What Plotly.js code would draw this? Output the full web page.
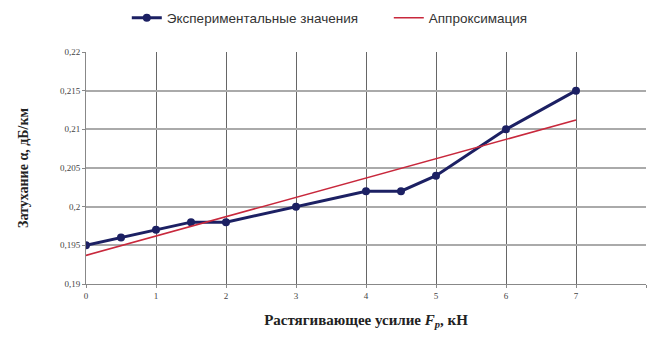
<!DOCTYPE html>
<html>
<head>
<meta charset="utf-8">
<script src="https://cdn.plot.ly/plotly-3.0.1.min.js"></script>
<style>
  html, body { margin: 0; padding: 0; background: #fff; }
  #chart { width: 648px; height: 339px; }
</style>
</head>
<body>
<div id="chart"></div>
<script>
// Measured attenuation vs. tensile force
const forceKN = [0, 0.5, 1, 1.5, 2, 3, 4, 4.5, 5, 6, 7];
const attenuation = [0.195, 0.196, 0.197, 0.198, 0.198, 0.200, 0.202, 0.202, 0.204, 0.210, 0.215];

// Linear approximation endpoints
const fitForce = [0, 7];
const fitAttenuation = [0.1937, 0.2112];

const xTicks = [0, 1, 2, 3, 4, 5, 6, 7, 8];
const yTicks = [0.19, 0.195, 0.2, 0.205, 0.21, 0.215, 0.22];
const yTickText = ['0,19', '0,195', '0,2', '0,205', '0,21', '0,215', '0,22'];

const serif = 'Liberation Serif, Times New Roman, serif';
const sans = 'Liberation Sans, Arial, sans-serif';

const traces = [
  {
    x: forceKN, y: attenuation,
    type: 'scatter', mode: 'lines+markers',
    name: 'Экспериментальные значения',
    line: { color: '#1c2063', width: 3 },
    marker: { color: '#1c2063', size: 8, symbol: 'circle' }
  },
  {
    x: fitForce, y: fitAttenuation,
    type: 'scatter', mode: 'lines',
    name: 'Аппроксимация',
    line: { color: '#c8283c', width: 1.6 }
  }
];

const layout = {
  width: 648, height: 339,
  margin: { l: 86, r: 2, t: 52, b: 55 },
  paper_bgcolor: '#fff', plot_bgcolor: '#fff',
  font: { family: serif, size: 10, color: '#333' },
  showlegend: true,
  legend: {
    orientation: 'h',
    xref: 'container', yref: 'container',
    x: 0.6, xanchor: 'center', y: 0.947, yanchor: 'middle',
    font: { family: sans, size: 13.5, color: '#333' },
    itemwidth: 30,
    entrywidth: 217, entrywidthmode: 'pixels'
  },
  xaxis: {
    range: [0, 8],
    tickvals: xTicks,
    ticktext: xTicks.map(String),
    showgrid: true, gridcolor: '#666', gridwidth: 1,
    zeroline: false,
    showline: true, linecolor: '#888', linewidth: 1,
    ticks: 'outside', ticklen: 3, tickcolor: '#888',
    tickfont: { family: serif, size: 9, color: '#444' },
    title: {
      text: '<b>Растягивающее усилие <i>F</i><sub><i>р</i></sub>, кН</b>',
      font: { family: serif, size: 15, color: '#222' },
      standoff: 14
    }
  },
  yaxis: {
    range: [0.19, 0.22],
    tickvals: yTicks,
    ticktext: yTickText,
    showgrid: true, gridcolor: '#aaa', gridwidth: 2,
    zeroline: false,
    showline: true, linecolor: '#888', linewidth: 1,
    ticks: 'outside', ticklen: 3, tickcolor: '#888',
    tickfont: { family: serif, size: 9, color: '#444' },
    title: {
      text: '<b>Затухание α, дБ/км</b>',
      font: { family: serif, size: 14, color: '#222' },
      standoff: 28
    }
  }
};

Plotly.newPlot('chart', traces, layout, { displayModeBar: false, staticPlot: true });
</script>
</body>
</html>
